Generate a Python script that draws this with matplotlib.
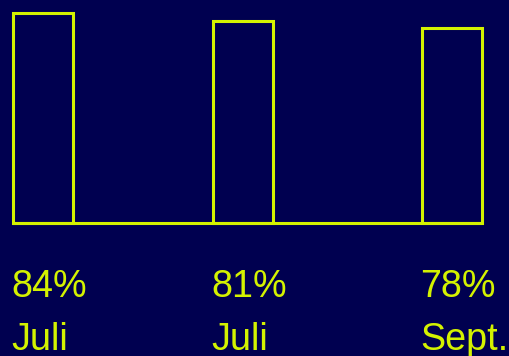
import matplotlib
matplotlib.use("Agg")
import matplotlib.pyplot as plt

# Data
values = [84, 81, 78]
pct_labels = ["84%", "81%", "78%"]
months = ["Juli", "Juli", "Sept."]

# Layout (pixel-based)
W, H = 509, 356
bar_left = [13, 213, 422]
bar_width = 60
base_px = 223
scale = 2.5  # px per percent

bg = "#000050"
fg = "#d4f200"

fig = plt.figure(figsize=(W / 100, H / 100), dpi=100, facecolor=bg)
ax = fig.add_axes([0, 0, 1, 1], facecolor=bg)
ax.set_xlim(0, W)
ax.set_ylim(-(H - base_px) / scale, base_px / scale)
ax.axis("off")

ax.bar(bar_left, values, width=bar_width, align="edge", facecolor="none",
       edgecolor=fg, linewidth=2.2)
ax.plot([bar_left[0], bar_left[-1] + bar_width], [0, 0], color=fg, linewidth=2.2,
        solid_capstyle="butt")

for x, p, m in zip(bar_left, pct_labels, months):
    ax.text(x - 2, -(297 - base_px) / scale, p, color=fg, fontsize=27.2,
            family="Liberation Sans", ha="left", va="baseline")
    ax.text(x - 2, -(350 - base_px) / scale, m, color=fg, fontsize=27.2,
            family="Liberation Sans", ha="left", va="baseline")

fig.savefig("out.png", dpi=100, facecolor=bg)
